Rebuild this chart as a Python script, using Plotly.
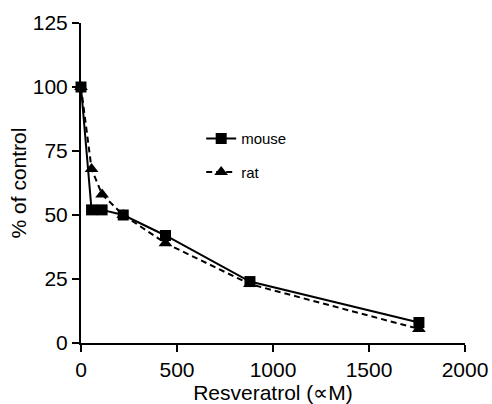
import plotly.graph_objects as go

conc = [0, 55, 110, 220, 440, 880, 1760]
mouse = [100, 52, 52, 50, 42, 24, 8]
rat = [100, 68, 58, 50, 39, 23, 5.5]
x_ticks = [0, 500, 1000, 1500, 2000]
y_ticks = [0, 25, 50, 75, 100, 125]

FONT = "Arial, Liberation Sans, Helvetica, sans-serif"

fig = go.Figure()
fig.add_trace(go.Scatter(
    x=conc, y=mouse, name="mouse", mode="lines+markers",
    line=dict(color="black", width=2, dash="solid"),
    marker=dict(symbol="square", size=11, color="black"),
    cliponaxis=False, legendgroup="m"))
fig.add_trace(go.Scatter(
    x=conc, y=rat, name="rat", mode="lines+markers",
    line=dict(color="black", width=2, dash="6px,4px"),
    marker=dict(symbol="triangle-up", size=12, color="black"),
    cliponaxis=False, legendgroup="r"))

fig.update_layout(
    width=492, height=404,
    margin=dict(l=81, r=27, t=23, b=61, autoexpand=False),
    paper_bgcolor="white", plot_bgcolor="white",
    font=dict(family=FONT, color="black"),
    showlegend=True,
    legend=dict(x=0.313, y=0.69, xanchor="left", yanchor="top",
                font=dict(size=15, family=FONT, color="black"),
                bgcolor="rgba(0,0,0,0)", tracegroupgap=11,
                itemwidth=30),
)
fig.update_xaxes(
    range=[0, 2000], tickvals=x_ticks, ticktext=[str(v) for v in x_ticks],
    showline=True, linecolor="black", linewidth=2, automargin=False,
    ticks="outside", ticklen=7, tickwidth=2, tickcolor="black",
    tickfont=dict(size=21, family=FONT), showgrid=False, zeroline=False,
    title=dict(text="Resveratrol (∝M)", font=dict(size=21, family=FONT), standoff=5),
)
fig.update_yaxes(
    range=[0, 125], tickvals=y_ticks, ticktext=[str(v) for v in y_ticks],
    showline=True, linecolor="black", linewidth=2, automargin=False,
    ticks="outside", ticklen=7, tickwidth=2, tickcolor="black",
    tickfont=dict(size=21, family=FONT), showgrid=False, zeroline=False,
    title=dict(text="% of control", font=dict(size=21, family=FONT), standoff=0),
)

fig.write_html(
    "out.html",
    config={"displayModeBar": False},
    post_script="document.body.style.margin='0';document.body.style.overflow='hidden';",
)
